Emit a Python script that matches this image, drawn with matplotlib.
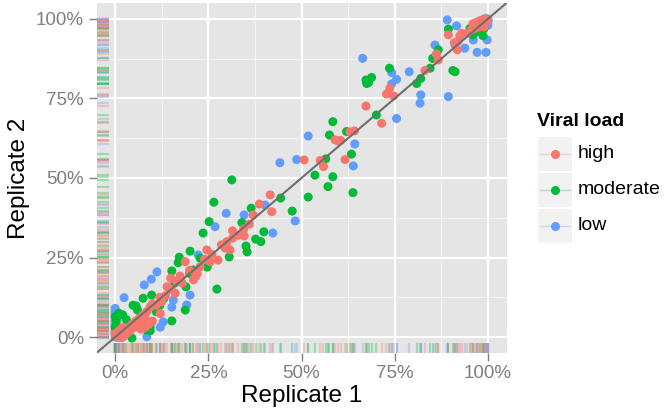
import numpy as np
import matplotlib
matplotlib.use("Agg")
import matplotlib.pyplot as plt
from matplotlib.patches import Rectangle

plt.rcParams["font.family"] = ["Liberation Sans", "DejaVu Sans"]

# ---- data (replicate 1 vs replicate 2 fractions) ----
high_x = [0.96, 0.97, 0.975, 0.98, 0.985, 0.99, 0.995, 0.965, 0.955, 0.99, 1.0, 0.945, 0.93,
          0.925, 0.894, 0.918, 0.862, 0.867, 0.831, 0.737, 0.728, 0.747, 0.673, 0.715, 0.63,
          0.642, 0.598, 0.59, 0.605, 0.617, 0.507, 0.55, 0.559, 0.416, 0.387, 0.37, 0.42, 0.36,
          0.315, 0.346, 0.315, 0.308, 0.246, 0.276, 0.255, 0.188, 0.228, 0.217, 0.174, 0.149,
          0.139, 0.161, 0.125, 0.094, 0.121, 0.26, 0.24, 0.2, 0.18, 0.165, 0.15, 0.135, 0.12,
          0.11, 0.10, 0.085, 0.075, 0.065, 0.055, 0.045, 0.035, 0.025, 0.015, 0.01, 0.005, 0.02,
          0.03, 0.04, 0.05, 0.06, 0.07, 0.08, 0.0, 0.01, 0.02, 0.3, 0.33, 0.345, 0.285, 0.295,
          0.22, 0.21, 0.08, 0.09, 0.10, 0.07, 0.92, 0.91]
high_y = [0.985, 0.99, 0.975, 0.995, 0.98, 0.99, 1.0, 0.97, 0.965, 0.975, 0.995, 0.955, 0.955,
          0.947, 0.95, 0.903, 0.89, 0.871, 0.838, 0.782, 0.764, 0.758, 0.726, 0.672, 0.645,
          0.648, 0.616, 0.62, 0.618, 0.558, 0.557, 0.555, 0.536, 0.447, 0.418, 0.384, 0.394, 0.355,
          0.334, 0.318, 0.311, 0.274, 0.274, 0.242, 0.237, 0.237, 0.221, 0.192, 0.192, 0.185,
          0.158, 0.138, 0.111, 0.095, 0.074, 0.26, 0.245, 0.21, 0.17, 0.175, 0.15, 0.13, 0.125,
          0.10, 0.105, 0.08, 0.07, 0.06, 0.05, 0.04, 0.03, 0.02, 0.01, 0.005, 0.0, 0.0,
          0.01, 0.02, 0.03, 0.04, 0.05, 0.06, 0.01, 0.02, 0.03, 0.3, 0.32, 0.34, 0.29, 0.28,
          0.2, 0.18, 0.03, 0.04, 0.05, 0.025, 0.93, 0.925]

moderate_x = [0.952, 0.97, 0.98, 0.99, 0.96, 0.894, 0.867, 0.852, 0.912, 0.845, 0.82, 0.809,
              0.736, 0.673, 0.688, 0.675, 0.68, 0.701, 0.584, 0.575, 0.621, 0.634, 0.565, 0.536,
              0.584, 0.571, 0.638, 0.518, 0.313, 0.265, 0.252, 0.236, 0.444, 0.365, 0.475, 0.34,
              0.399, 0.377, 0.391, 0.351, 0.354, 0.306, 0.201, 0.228, 0.172, 0.169, 0.247, 0.209,
              0.152, 0.19, 0.273, 0.075, 0.056, 0.098, 0.188, 0.152, 0.094, 0.085, 0.0, 0.003,
              0.045, 0.094, 0.048, 0.13, 0.11, 0.0, 0.01, 0.2, 0.16, 0.12, 0.987, 0.906, 0.03,
              0.06, 0.02]
moderate_y = [0.97, 0.96, 0.985, 0.97, 0.95, 0.968, 0.903, 0.876, 0.834, 0.845, 0.813, 0.797,
              0.845, 0.808, 0.816, 0.797, 0.80, 0.698, 0.677, 0.635, 0.646, 0.575, 0.56, 0.509,
              0.504, 0.473, 0.454, 0.44, 0.494, 0.424, 0.363, 0.327, 0.437, 0.405, 0.396, 0.36,
              0.331, 0.308, 0.30, 0.286, 0.268, 0.252, 0.27, 0.248, 0.251, 0.234, 0.22, 0.211,
              0.208, 0.158, 0.151, 0.122, 0.098, 0.132, 0.085, 0.051, 0.032, 0.022, 0.064, 0.048,
              -0.003, 0.02, 0.10, 0.12, 0.08, 0.03, 0.075, 0.2, 0.17, 0.10, 0.947, 0.838, 0.055,
              0.085, 0.07]

low_x = [0.891, 0.916, 0.961, 0.998, 0.971, 0.995, 0.858, 0.938, 0.912, 0.894, 0.789, 0.82,
         0.818, 0.755, 0.664, 0.742, 0.755, 0.742, 0.518, 0.643, 0.639, 0.442, 0.487, 0.298,
         0.268, 0.402, 0.346, 0.483, 0.423, 0.223, 0.112, 0.097, 0.078, 0.024, 0.201, 0.156,
         0.152, 0.192, 0.129, 0.121, 0.085, 0.0, 0.0, 1.0, 0.99, 1.0, 1.0, 0.995, 0.0, 0.0,
         0.0, 0.005, 0.01, 0.02, 0.0, 0.0, 0.005, 0.0, 0.01, 0.0, 1.0, 0.985, 0.0, 0.0, 0.015]
low_y = [0.997, 0.978, 0.934, 0.934, 0.895, 0.895, 0.918, 0.908, 0.918, 0.756, 0.834, 0.761,
         0.735, 0.687, 0.876, 0.831, 0.81, 0.796, 0.632, 0.607, 0.538, 0.548, 0.558, 0.389,
         0.347, 0.415, 0.384, 0.365, 0.327, 0.258, 0.205, 0.182, 0.164, 0.124, 0.132, 0.116,
         0.094, 0.101, 0.048, 0.031, 0.001, 0.072, 0.09, 1.0, 1.0, 0.99, 0.98, 1.0, 0.0, 0.02,
         0.04, 0.06, 0.0, 0.0, 0.08, 0.01, 0.03, 0.05, 0.0, 0.065, 0.995, 0.99, 0.015, 0.035,
         0.0]

groups = ["high", "moderate", "low"]
colors = {"high": "#F8766D", "moderate": "#00BA38", "low": "#619CFF"}
data = {"high": (high_x, high_y), "moderate": (moderate_x, moderate_y), "low": (low_x, low_y)}

W, H = 666, 418
fig = plt.figure(figsize=(W / 100, H / 100), dpi=100)
ax = fig.add_axes([96.5 / W, (H - 353) / H, 410 / W, 350 / H])
ax.set_facecolor("#E5E5E5")
for s in ax.spines.values():
    s.set_visible(False)

ticks = [0, 0.25, 0.5, 0.75, 1.0]
minor = [0.125, 0.375, 0.625, 0.875]
for m in minor:
    ax.axvline(m, color="#F4F4F4", lw=0.8, zorder=0.5)
    ax.axhline(m, color="#F4F4F4", lw=0.8, zorder=0.5)
for t in ticks:
    ax.axvline(t, color="white", lw=1.5, zorder=0.6)
    ax.axhline(t, color="white", lw=1.5, zorder=0.6)

# points: low first, red on top
for g in ["low", "moderate", "high"]:
    x, y = data[g]
    ax.scatter(x, y, s=42, color=colors[g], edgecolors="none", zorder=2)

# rugs
for g in ["low", "moderate", "high"]:
    x, y = data[g]
    ax.vlines(x, 0, 0.03, transform=ax.get_xaxis_transform(), colors=colors[g],
              alpha=0.3, lw=1.6, zorder=1.5)
    ax.hlines(y, 0, 0.03, transform=ax.get_yaxis_transform(), colors=colors[g],
              alpha=0.3, lw=1.6, zorder=1.5)

ax.axline((0, 0), slope=1, color="#6E6E6E", lw=1.5, zorder=3)

ax.set_xlim(-0.05, 1.05)
ax.set_ylim(-0.05, 1.05)
labels = ["0%", "25%", "50%", "75%", "100%"]
ax.set_xticks(ticks, labels)
ax.set_yticks(ticks, labels)
ax.tick_params(length=6, width=1.0, color="#7F7F7F", labelcolor="#7F7F7F",
               labelsize=13.5, pad=3)
ax.set_xlabel("Replicate 1", fontsize=17.5, labelpad=2)
ax.set_ylabel("Replicate 2", fontsize=17.5, labelpad=4)

# legend drawn in pixel coordinates
lax = fig.add_axes([0, 0, 1, 1], facecolor="none")
lax.set_xlim(0, W)
lax.set_ylim(H, 0)
lax.axis("off")
lax.text(537, 121, "Viral load", fontsize=14, fontweight="bold", va="center", ha="left")
key_tops = [137, 173, 209]
for g, top in zip(groups, key_tops):
    lax.add_patch(Rectangle((538, top), 34, 34, facecolor="#F2F2F2", edgecolor="none"))
    cy = top + 17
    lax.plot([540, 570], [cy, cy], color=colors[g], alpha=0.3, lw=1.0)
    lax.plot([555], [cy], marker="o", ms=6.5, color=colors[g], mec="none")
    lax.text(578, cy, g, fontsize=14, va="center", ha="left")

fig.savefig("out.png", dpi=100)
